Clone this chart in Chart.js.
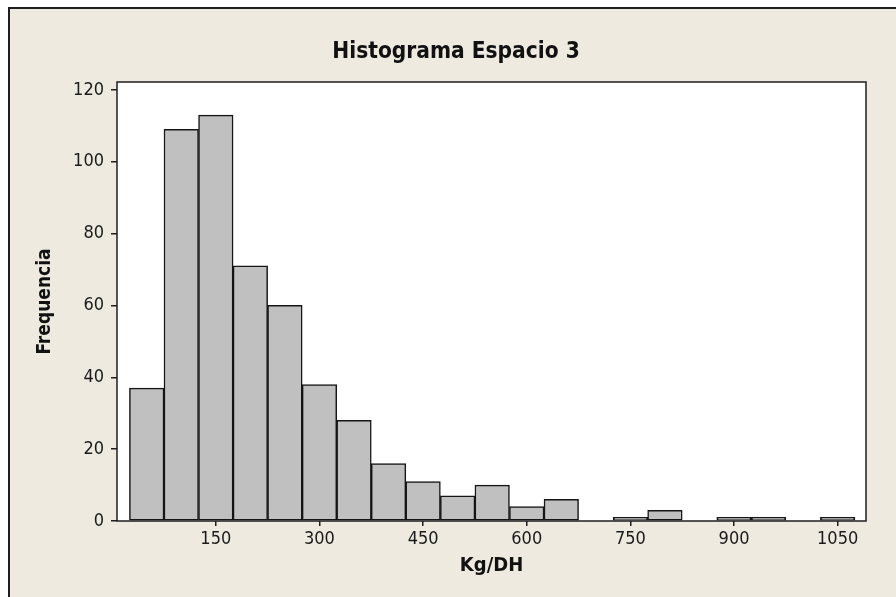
<!DOCTYPE html>
<html>
<head>
<meta charset="utf-8">
<script src="https://cdn.jsdelivr.net/npm/chart.js@4.4.1/dist/chart.umd.min.js"></script>
<style>
html, body { margin: 0; padding: 0; background: #fff; }
#wrap { position: relative; width: 896px; height: 597px; overflow: hidden; }
#marco { position: absolute; left: 8px; top: 7px; width: 950px; height: 650px; background: #eeeae0; border: 2px solid #1e1e1e; }
#histograma { position: absolute; left: 0; top: 0; }
</style>
</head>
<body>
<div id="wrap">
  <div id="marco"></div>
  <canvas id="histograma" width="896" height="597"></canvas>
</div>
<script>
var centros     = [50, 100, 150, 200, 250, 300, 350, 400, 450, 500, 550, 600, 650, 700, 750, 800, 850, 900, 950, 1000, 1050];
var frecuencias = [37, 109, 113, 71, 60, 38, 28, 16, 11, 7, 10, 4, 6, 0, 1, 3, 0, 1, 1, 0, 1];
var ticksX      = [150, 300, 450, 600, 750, 900, 1050];
var ticksY      = [0, 20, 40, 60, 80, 100, 120];

var titulo = "Histograma Espacio 3";
var fuente = "'DejaVu Sans Condensed', 'DejaVu Sans', sans-serif";

// fondo blanco del area de trazado + marco + titulo
var marcoPlugin = {
    id: 'marco',
    beforeDraw: function (chart) {
        var a = chart.chartArea, ctx = chart.ctx;
        ctx.save();
        ctx.fillStyle = '#ffffff';
        ctx.fillRect(a.left, a.top, a.right - a.left, a.bottom - a.top);
        ctx.restore();
    },
    afterDraw: function (chart) {
        var a = chart.chartArea, ctx = chart.ctx;
        ctx.save();
        ctx.strokeStyle = '#1e1e1e';
        ctx.lineWidth = 1.5;
        ctx.strokeRect(a.left, a.top, a.right - a.left, a.bottom - a.top);
        ctx.fillStyle = '#111111';
        ctx.font = "bold 22.5px " + fuente;
        ctx.textAlign = 'center';
        ctx.textBaseline = 'alphabetic';
        ctx.fillText(titulo, 456, 58);
        ctx.restore();
    }
};

var datos = centros.map(function (c, i) {
    return { x: c, y: frecuencias[i] };
});

var ctx = document.getElementById("histograma").getContext("2d");
new Chart(ctx, {
    type: 'bar',
    data: {
        datasets: [{
            data: datos,
            backgroundColor: '#c0c0c0',
            borderColor: '#151515',
            borderWidth: 1.5,
            borderSkipped: false,
            barPercentage: 1,
            categoryPercentage: 1
        }]
    },
    options: {
        responsive: false,
        animation: false,
        devicePixelRatio: 1,
        layout: { padding: { top: 82, right: 30, left: 0, bottom: 0 } },
        plugins: {
            legend: { display: false },
            tooltip: { enabled: false },
            title: { display: false }
        },
        scales: {
            x: {
                type: 'linear',
                min: 7,
                max: 1091,
                offset: false,
                afterBuildTicks: function (s) { s.ticks = ticksX.map(function (v) { return { value: v }; }); },
                afterFit: function (s) { s.height = 76; },
                border: { display: false },
                grid: { offset: false, drawOnChartArea: false, drawTicks: true, tickLength: 5, color: '#1e1e1e', lineWidth: 1.5 },
                ticks: {
                    color: '#1a1a1a', font: { family: fuente, size: 18 }, padding: 3, maxRotation: 0, autoSkip: false,
                    callback: function (v) { return String(v); }
                },
                title: { display: true, text: 'Kg/DH', color: '#111', font: { family: fuente, size: 20, weight: 'bold' }, padding: { top: 0, bottom: 19 } }
            },
            y: {
                min: 0,
                max: 122.2,
                afterBuildTicks: function (s) { s.ticks = ticksY.map(function (v) { return { value: v }; }); },
                afterFit: function (s) { s.width = 117; },
                border: { display: false },
                grid: { drawOnChartArea: false, drawTicks: true, tickLength: 6, color: '#1e1e1e', lineWidth: 1.5 },
                ticks: { color: '#1a1a1a', font: { family: fuente, size: 18 }, padding: 7 },
                title: { display: true, text: 'Frequencia', color: '#111', font: { family: fuente, size: 19, weight: 'bold' }, padding: { top: 34, bottom: 0 } }
            }
        }
    },
    plugins: [marcoPlugin]
});
</script>
</body>
</html>
